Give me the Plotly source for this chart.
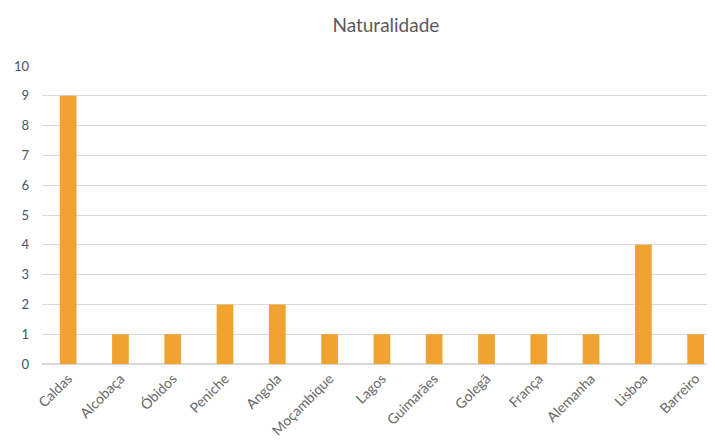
import plotly.graph_objects as go

# Naturalidade dos inquiridos
locais = ["Caldas", "Alcobaça", "Óbidos", "Peniche", "Angola", "Moçambique", "Lagos",
          "Guimarães", "Golegã", "França", "Alemanha", "Lisboa", "Barreiro"]
contagens = [9, 1, 1, 2, 2, 1, 1, 1, 1, 1, 1, 4, 1]
y_ticks = list(range(0, 11))

fig = go.Figure()
fig.add_trace(go.Bar(
    x=locais,
    y=contagens,
    width=0.32,
    marker=dict(color="#F0A330", line=dict(width=0)),
    hoverinfo="x+y",
))

# a pagina tem 8px de margem no body, por isso a figura fica 8px mais pequena
fig.update_layout(
    title=dict(text="Naturalidade", x=0.511, xref="paper", y=0.961, yanchor="middle",
               font=dict(size=19, color="#595959", family="Lato, Open Sans, sans-serif")),
    width=707, height=437,
    margin=dict(l=34, r=0, t=58, b=81),
    plot_bgcolor="white",
    paper_bgcolor="white",
    showlegend=False,
    font=dict(family="Lato, Open Sans, sans-serif", color="#595959"),
    xaxis=dict(
        type="category",
        range=[-0.5, 12.37],
        tickangle=-45,
        tickfont=dict(size=14, color="#666666"),
        showgrid=False,
        showline=True,
        linecolor="#d9d9d9",
        ticks="",
        automargin=False,
    ),
    yaxis=dict(
        range=[0, 10],
        tickvals=y_ticks,
        tickfont=dict(size=13, color="#44546A"),
        showgrid=True,
        gridcolor="#d9d9d9",
        zeroline=True,
        zerolinecolor="#d9d9d9",
        ticklabelstandoff=12,
        showline=False,
        automargin=False,
    ),
)

fig.write_html("out.html")
